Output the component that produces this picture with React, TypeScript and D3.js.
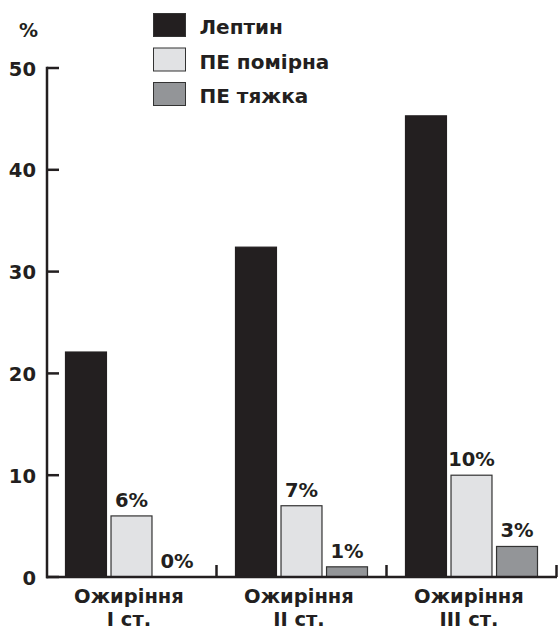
import React from "react";
import * as d3 from "d3";

const categories = ["I ст.", "II ст.", "III ст."];
const categoryTitle = "Ожиріння";
const seriesNames = ["Лептин", "ПЕ помірна", "ПЕ тяжка"];
const leptin = [22.1, 32.4, 45.3];
const peModerate = [6, 7, 10];
const peSevere = [0, 1, 3];
const labelsModerate = ["6%", "7%", "10%"];
const labelsSevere = ["0%", "1%", "3%"];
const yTicks = [0, 10, 20, 30, 40, 50];
const colors = ["#231f20", "#e1e2e4", "#939598"];

const W = 558;
const H = 630;
const FONT = "'DejaVu Sans', Verdana, sans-serif";

export default function App() {
  const x0 = d3.scaleBand<string>().domain(categories).range([47, 557]).padding(0);
  const x1 = d3
    .scaleBand<string>()
    .domain(seriesNames)
    .range([18.5, 150.5])
    .paddingInner(0.1)
    .paddingOuter(0);
  const y = d3.scaleLinear().domain([0, 50]).range([577, 68]);

  const series = [leptin, peModerate, peSevere];
  const valueLabels: (string[] | null)[] = [null, labelsModerate, labelsSevere];

  return (
    <svg
      width={W}
      height={H}
      style={{ position: "fixed", left: 0, top: 0, background: "#fff" }}
      fontFamily={FONT}
      fontWeight="bold"
    >
      <rect width={W} height={H} fill="#fff" />
      {/* legend */}
      {seriesNames.map((s, i) => (
        <g key={s} transform={`translate(153.5, ${13.5 + i * 34.5})`}>
          <rect width={32} height={23} fill={colors[i]} stroke="#333" strokeWidth={1} />
          <text x={46} y={20.5} fontSize={20} fill="#231f20">
            {s}
          </text>
        </g>
      ))}
      {/* % label */}
      <text x={28.5} y={37} fontSize={19} textAnchor="middle" fill="#231f20">
        %
      </text>
      {/* bars */}
      {categories.map((c, ci) => (
        <g key={c} transform={`translate(${x0(c)},0)`}>
          {seriesNames.map((s, si) => {
            const v = series[si][ci];
            const bx = x1(s)!;
            const bw = x1.bandwidth();
            return (
              <g key={s}>
                {v > 0 && (
                  <rect
                    x={bx}
                    y={y(v)}
                    width={bw}
                    height={y(0) - y(v)}
                    fill={colors[si]}
                    stroke={si === 0 ? colors[0] : "#333"}
                    strokeWidth={1.2}
                  />
                )}
                {valueLabels[si] && (
                  <text
                    x={bx + bw / 2}
                    y={y(v) - 9}
                    fontSize={19.5}
                    textAnchor="middle"
                    fill="#231f20"
                  >
                    {valueLabels[si]![ci]}
                  </text>
                )}
              </g>
            );
          })}
          <text
            x={x0.bandwidth() / 2 - 3}
            y={603}
            fontSize={19.5}
            textAnchor="middle"
            fill="#231f20"
          >
            {categoryTitle}
          </text>
          <text
            x={x0.bandwidth() / 2 - 3}
            y={626}
            fontSize={19.5}
            textAnchor="middle"
            fill="#231f20"
          >
            {c}
          </text>
        </g>
      ))}
      {/* y axis */}
      <line x1={47} x2={47} y1={y(50) - 1.25} y2={y(0) + 1.25} stroke="#231f20" strokeWidth={2.5} />
      {yTicks.map((t) => (
        <g key={t}>
          <line x1={47} x2={59} y1={y(t)} y2={y(t)} stroke="#231f20" strokeWidth={2.5} />
          <text x={36} y={y(t) + 7.5} fontSize={19.5} textAnchor="end" fill="#231f20">
            {t}
          </text>
        </g>
      ))}
      {/* x axis */}
      <line x1={46} x2={557} y1={y(0)} y2={y(0)} stroke="#231f20" strokeWidth={2.5} />
      {categories.map((c) => (
        <line
          key={c}
          x1={x0(c)! + x0.bandwidth() - 0.5}
          x2={x0(c)! + x0.bandwidth() - 0.5}
          y1={y(0) - 12}
          y2={y(0)}
          stroke="#231f20"
          strokeWidth={2.5}
        />
      ))}
    </svg>
  );
}
